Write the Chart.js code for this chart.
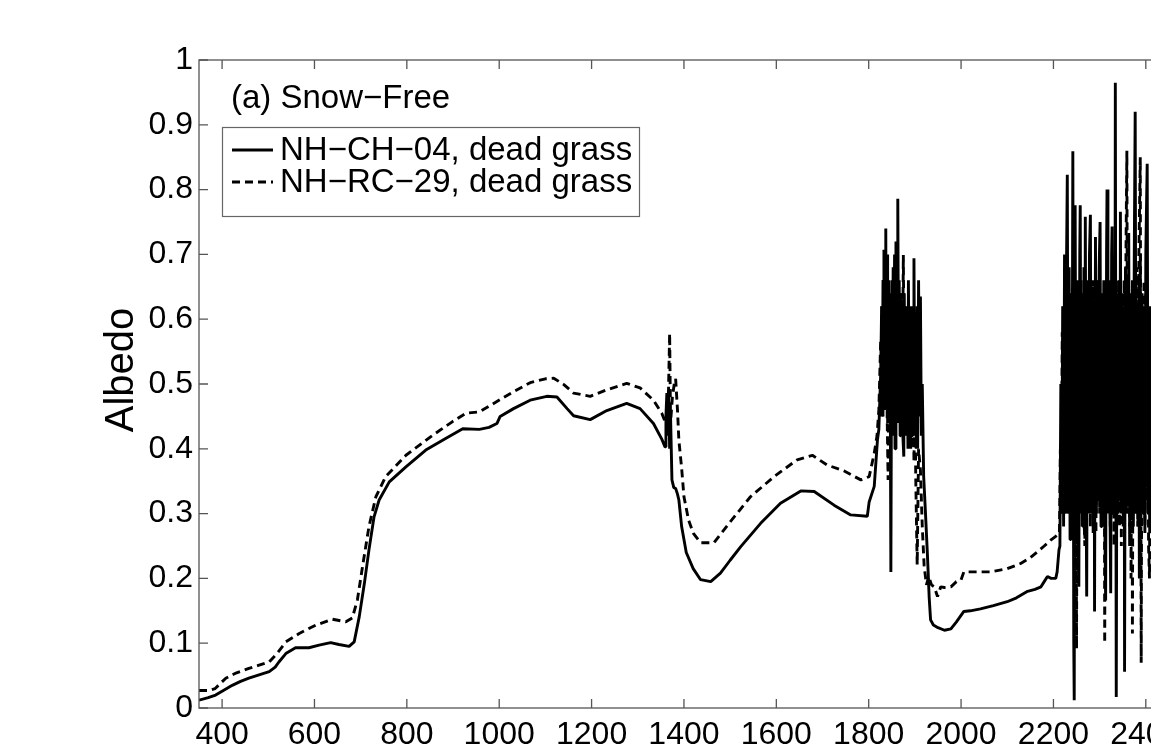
<!DOCTYPE html>
<html>
<head>
<meta charset="utf-8">
<script src="https://cdn.jsdelivr.net/npm/chart.js@4.4.1/dist/chart.umd.min.js"></script>
<style>
  html, body { margin: 0; padding: 0; overflow: hidden; background: #fff; }
  #wrap { width: 1240px; height: 754px; }
</style>
</head>
<body>
<div id="wrap"><canvas id="c" width="1240" height="754"></canvas></div>
<script>
// ---------------- data ----------------
const panelTitle = '(a) Snow\u2212Free';
const seriesNames = ['NH\u2212CH\u221204, dead grass', 'NH\u2212RC\u221229, dead grass'];
const yAxisTitle = 'Albedo';
const xTickValues = [400, 600, 800, 1000, 1200, 1400, 1600, 1800, 2000, 2200, 2400];
const yTickValues = [0, 0.1, 0.2, 0.3, 0.4, 0.5, 0.6, 0.7, 0.8, 0.9, 1];
const yTickLabels = ['0', '0.1', '0.2', '0.3', '0.4', '0.5', '0.6', '0.7', '0.8', '0.9', '1'];

// [wavelength (nm), albedo] — NH-CH-04 (solid)
const ch04 = [
  [350,0.012],[370,0.016],[386,0.020],[400,0.026],[422,0.035],[440,0.041],[458,0.046],[480,0.051],
  [502,0.056],[515,0.063],[523,0.071],[538,0.084],[559,0.093],[588,0.093],[610,0.097],[635,0.101],
  [653,0.098],[675,0.095],[686,0.102],[697,0.141],[708,0.192],[718,0.244],[729,0.295],[740,0.321],
  [762,0.349],[798,0.372],[841,0.398],[884,0.416],[921,0.431],[957,0.430],[978,0.433],[995,0.439],
  [1002,0.450],[1031,0.462],[1067,0.475],[1103,0.481],[1125,0.480],[1147,0.462],[1161,0.451],
  [1197,0.445],[1233,0.459],[1276,0.470],[1305,0.462],[1334,0.439],[1352,0.415],[1359,0.403],
  [1361,0.45],[1363,0.486],[1365,0.42],[1367,0.49],[1369,0.40],[1371,0.45],[1374,0.352],[1378,0.34],
  [1382,0.339],[1386,0.33],[1389,0.321],[1395,0.28],[1405,0.24],[1420,0.215],[1436,0.198],
  [1458,0.195],[1479,0.208],[1500,0.228],[1523,0.249],[1566,0.285],[1609,0.316],[1653,0.335],
  [1682,0.334],[1725,0.313],[1761,0.298],[1797,0.296],[1801,0.318],[1812,0.342],[1819,0.414],
  [1822,0.43],[1826,0.517],
  [1828,0.62],[1829,0.45],[1831,0.66],[1833,0.707],[1834,0.48],[1836,0.68],[1837,0.74],[1838,0.46],
  [1840,0.70],[1841,0.44],[1843,0.66],[1844,0.45],[1846,0.64],[1848,0.21],[1850,0.66],[1851,0.44],
  [1853,0.68],[1854,0.42],[1856,0.70],[1857,0.40],[1859,0.72],[1860,0.45],[1862,0.70],[1863,0.786],
  [1865,0.44],[1866,0.66],[1868,0.42],[1869,0.64],[1871,0.45],[1872,0.62],[1874,0.42],[1876,0.388],
  [1877,0.64],[1879,0.44],[1880,0.62],[1882,0.42],[1883,0.60],[1885,0.40],[1886,0.66],[1888,0.42],
  [1889,0.60],[1891,0.40],[1892,0.62],[1894,0.42],[1895,0.60],[1897,0.44],[1898,0.694],[1900,0.42],
  [1901,0.60],[1903,0.40],[1905,0.62],[1906,0.40],[1908,0.66],[1910,0.45],[1912,0.635],[1914,0.42],
  [1916,0.50],[1919,0.358],[1923,0.30],[1927,0.239],[1931,0.17],[1934,0.136],[1940,0.128],[1950,0.124],
  [1964,0.120],[1978,0.122],[1990,0.133],[2006,0.149],[2020,0.150],[2042,0.153],[2070,0.158],
  [2100,0.164],[2120,0.170],[2144,0.180],[2160,0.183],[2173,0.187],[2180,0.195],[2187,0.203],
  [2195,0.200],[2205,0.200],[2208,0.210],[2212,0.244],
  [2214,0.25],[2216,0.50],[2218,0.30],[2220,0.62],[2222,0.28],[2224,0.70],[2226,0.30],[2228,0.66],
  [2230,0.823],[2232,0.30],[2234,0.68],[2236,0.26],[2238,0.64],[2240,0.32],[2242,0.859],[2244,0.10],
  [2245,0.012],[2247,0.776],[2249,0.27],[2251,0.66],[2253,0.30],[2255,0.187],[2257,0.70],[2258,0.776],
  [2260,0.30],[2262,0.64],[2264,0.28],[2266,0.68],[2268,0.32],[2269,0.758],[2271,0.30],[2272,0.172],
  [2274,0.66],[2276,0.30],[2278,0.70],[2280,0.761],[2282,0.30],[2284,0.64],[2286,0.27],[2288,0.60],
  [2289,0.149],[2291,0.727],[2293,0.30],[2295,0.66],[2297,0.32],[2299,0.68],[2301,0.750],[2303,0.28],
  [2305,0.64],[2307,0.32],[2309,0.66],[2311,0.30],[2313,0.166],[2315,0.70],[2316,0.80],[2318,0.30],
  [2320,0.66],[2322,0.34],[2324,0.177],[2326,0.70],[2327,0.743],[2329,0.30],[2331,0.64],[2333,0.35],
  [2334,0.965],[2336,0.017],[2338,0.62],[2340,0.30],[2342,0.66],[2344,0.32],[2345,0.766],[2347,0.30],
  [2349,0.64],[2351,0.28],[2353,0.60],[2354,0.056],[2356,0.68],[2358,0.30],[2360,0.66],[2362,0.32],
  [2363,0.733],[2365,0.25],[2367,0.64],[2369,0.30],[2371,0.66],[2373,0.28],[2375,0.70],[2377,0.92],
  [2379,0.30],[2381,0.62],[2383,0.28],[2385,0.66],[2386,0.20],[2388,0.70],[2390,0.30],[2392,0.64],
  [2394,0.30],[2396,0.62],[2398,0.27],[2400,0.70],[2401,0.75],[2403,0.84],[2405,0.30],[2407,0.62],
  [2409,0.28],[2411,0.60],[2413,0.27],[2415,0.55],[2417,0.32],[2420,0.45]
];

// [wavelength (nm), albedo] — NH-RC-29 (dashed)
const rc29 = [
  [350,0.027],[372,0.027],[385,0.030],[408,0.046],[430,0.054],[458,0.061],[480,0.066],[502,0.071],
  [520,0.085],[538,0.102],[567,0.115],[603,0.128],[639,0.137],[668,0.133],[682,0.139],[693,0.167],
  [704,0.218],[718,0.280],[733,0.326],[754,0.357],[798,0.390],[856,0.421],[899,0.442],[928,0.455],
  [957,0.457],[995,0.473],[1031,0.488],[1067,0.502],[1100,0.508],[1118,0.509],[1140,0.499],
  [1161,0.486],[1197,0.481],[1233,0.491],[1276,0.501],[1305,0.494],[1334,0.475],[1352,0.455],
  [1360,0.44],[1366,0.47],[1369,0.578],[1371,0.44],[1375,0.48],[1379,0.50],[1382,0.508],[1386,0.46],
  [1389,0.413],[1395,0.37],[1400,0.326],[1410,0.29],[1420,0.27],[1436,0.255],[1465,0.255],
  [1501,0.288],[1544,0.326],[1595,0.357],[1645,0.383],[1678,0.390],[1710,0.375],[1746,0.366],
  [1783,0.352],[1801,0.357],[1812,0.393],[1818,0.42],[1822,0.46],[1826,0.568],
  [1828,0.50],[1829,0.62],[1831,0.45],[1832,0.60],[1834,0.48],[1836,0.64],[1837,0.46],[1839,0.62],
  [1840,0.45],[1842,0.352],[1844,0.60],[1846,0.46],[1848,0.619],[1849,0.45],[1851,0.62],[1852,0.46],
  [1854,0.63],[1855,0.44],[1857,0.60],[1858,0.45],[1860,0.62],[1861,0.44],[1863,0.60],[1864,0.46],
  [1866,0.62],[1867,0.48],[1869,0.60],[1870,0.46],[1872,0.64],[1873,0.50],[1875,0.699],[1877,0.48],
  [1878,0.62],[1880,0.46],[1881,0.62],[1883,0.50],[1884,0.517],[1886,0.60],[1887,0.44],[1889,0.58],
  [1890,0.42],[1892,0.55],[1894,0.40],[1896,0.52],[1898,0.38],[1900,0.48],[1902,0.35],[1905,0.221],
  [1908,0.40],[1912,0.367],[1916,0.28],[1920,0.22],[1925,0.19],[1930,0.203],[1936,0.19],[1942,0.187],
  [1949,0.172],[1956,0.187],[1964,0.186],[1978,0.187],[1990,0.195],[2000,0.198],[2006,0.210],
  [2030,0.210],[2064,0.210],[2100,0.215],[2129,0.223],[2150,0.232],[2165,0.241],[2180,0.250],
  [2194,0.259],[2205,0.265],[2211,0.270],
  [2213,0.27],[2215,0.40],[2217,0.30],[2219,0.58],[2221,0.32],[2223,0.62],[2225,0.30],[2227,0.66],
  [2229,0.34],[2231,0.60],[2233,0.30],[2235,0.64],[2237,0.28],[2239,0.62],[2241,0.33],[2243,0.66],
  [2246,0.30],[2248,0.60],[2250,0.092],[2252,0.62],[2254,0.30],[2256,0.64],[2258,0.32],[2260,0.66],
  [2262,0.28],[2264,0.60],[2266,0.30],[2268,0.25],[2270,0.64],[2272,0.34],[2274,0.66],[2276,0.30],
  [2278,0.62],[2280,0.28],[2282,0.60],[2284,0.33],[2286,0.66],[2288,0.30],[2290,0.62],[2292,0.27],
  [2294,0.64],[2296,0.32],[2298,0.66],[2300,0.30],[2302,0.62],[2304,0.28],[2306,0.64],[2308,0.33],
  [2310,0.60],[2311,0.10],[2313,0.62],[2315,0.30],[2317,0.66],[2319,0.32],[2321,0.64],[2323,0.28],
  [2325,0.62],[2327,0.30],[2329,0.66],[2331,0.25],[2333,0.70],[2335,0.35],[2337,0.64],[2339,0.30],
  [2341,0.66],[2343,0.28],[2345,0.62],[2347,0.25],[2349,0.64],[2351,0.30],[2353,0.66],[2355,0.33],
  [2357,0.70],[2359,0.86],[2361,0.30],[2363,0.64],[2365,0.28],[2367,0.60],[2368,0.20],[2370,0.62],
  [2371,0.115],[2373,0.64],[2375,0.32],[2377,0.66],[2379,0.30],[2381,0.68],[2383,0.28],[2385,0.70],
  [2388,0.85],[2390,0.07],[2392,0.62],[2394,0.30],[2396,0.66],[2398,0.28],[2400,0.64],[2402,0.32],
  [2404,0.60],[2406,0.25],[2408,0.20],[2410,0.58],[2412,0.30],[2414,0.55],[2416,0.30],[2420,0.50]
];

// ---------------- drawing ----------------
const FONT = 'Liberation Sans, Arial, Helvetica, sans-serif';
const AXIS_COLOR = '#555';

const matlabAxes = {
  id: 'matlabAxes',
  afterDatasetsDraw(chart) {
    const {ctx, chartArea: a, scales: {x, y}} = chart;
    ctx.save();
    ctx.strokeStyle = AXIS_COLOR;
    ctx.lineWidth = 1.3;
    ctx.strokeRect(a.left, a.top, a.right - a.left, a.bottom - a.top);
    const tl = 9;
    ctx.beginPath();
    x.ticks.forEach(t => {
      const px = x.getPixelForValue(t.value);
      ctx.moveTo(px, a.bottom); ctx.lineTo(px, a.bottom - tl);
      ctx.moveTo(px, a.top); ctx.lineTo(px, a.top + tl);
    });
    y.ticks.forEach(t => {
      const py = y.getPixelForValue(t.value);
      ctx.moveTo(a.left, py); ctx.lineTo(a.left + tl, py);
      ctx.moveTo(a.right, py); ctx.lineTo(a.right - tl, py);
    });
    ctx.stroke();
    ctx.restore();
  },
  afterDraw(chart) {
    const {ctx, chartArea: a} = chart;
    const ds = chart.data.datasets;
    ctx.save();
    // y axis title
    ctx.save();
    ctx.translate(a.left - 77, (a.top + a.bottom) / 2 - 14);
    ctx.rotate(-Math.PI / 2);
    ctx.fillStyle = '#000';
    ctx.font = '40px ' + FONT;
    ctx.textAlign = 'center';
    ctx.textBaseline = 'middle';
    ctx.fillText(yAxisTitle, 0, 0);
    ctx.restore();
    // panel title
    ctx.fillStyle = '#000';
    ctx.font = '33px ' + FONT;
    ctx.textBaseline = 'alphabetic';
    ctx.textAlign = 'left';
    ctx.fillText(panelTitle, a.left + 32, a.top + 48);
    // legend box
    const bx = a.left + 23.5, by = a.top + 67.5, bw = 417, bh = 89;
    ctx.fillStyle = '#fff';
    ctx.fillRect(bx, by, bw, bh);
    ctx.strokeStyle = '#666';
    ctx.lineWidth = 1.2;
    ctx.strokeRect(bx, by, bw, bh);
    const rows = [a.top + 90, a.top + 122];
    ds.forEach((d, i) => {
      const ry = rows[i];
      ctx.beginPath();
      ctx.strokeStyle = d.borderColor;
      ctx.lineWidth = d.borderWidth;
      ctx.setLineDash(d.borderDash || []);
      ctx.moveTo(a.left + 33, ry);
      ctx.lineTo(a.left + 74, ry);
      ctx.stroke();
      ctx.setLineDash([]);
      ctx.fillStyle = '#000';
      ctx.font = '33px ' + FONT;
      ctx.textBaseline = 'middle';
      ctx.fillText(d.label, a.left + 81, ry + 1);
    });
    ctx.restore();
  }
};

new Chart(document.getElementById('c'), {
  type: 'line',
  data: {
    datasets: [
      { label: seriesNames[0], data: ch04.map(([x, y]) => ({x, y})), borderColor: '#000',
        borderWidth: 2.9, pointRadius: 0, tension: 0, fill: false, borderJoinStyle: 'bevel' },
      { label: seriesNames[1], data: rc29.map(([x, y]) => ({x, y})), borderColor: '#000',
        borderWidth: 2.9, borderDash: [8, 5], pointRadius: 0, tension: 0, fill: false, borderJoinStyle: 'bevel' }
    ]
  },
  options: {
    responsive: false,
    animation: false,
    devicePixelRatio: 1,
    layout: { padding: { left: 0, right: 48, top: 60, bottom: 0 } },
    plugins: { legend: { display: false }, tooltip: { enabled: false } },
    scales: {
      x: {
        type: 'linear', min: 350, max: 2500,
        grid: { display: false, drawTicks: false },
        border: { display: false },
        afterBuildTicks: s => { s.ticks = xTickValues.map(v => ({value: v})); },
        afterFit: s => { s.height = 46; },
        ticks: { color: '#000', font: { family: FONT, size: 32 }, padding: 8,
                 autoSkip: false, maxRotation: 0, callback: v => String(v) }
      },
      y: {
        type: 'linear', min: 0, max: 1,
        grid: { display: false, drawTicks: false },
        border: { display: false },
        afterBuildTicks: s => { s.ticks = yTickValues.map(v => ({value: v})); },
        afterFit: s => { s.width = 199; },
        ticks: { color: '#000', font: { family: FONT, size: 32 }, padding: 6,
                 autoSkip: false, callback: (v, i) => yTickLabels[i] }
      }
    }
  },
  plugins: [matlabAxes]
});
</script>
</body>
</html>
